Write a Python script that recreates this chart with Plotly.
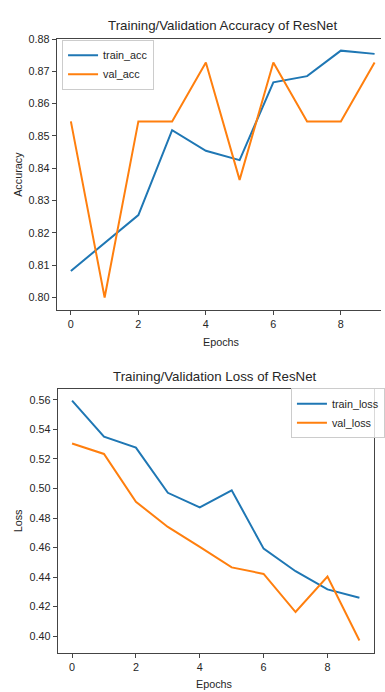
import plotly.graph_objects as go

epochs = list(range(10))
train_acc = [0.8082, 0.8168, 0.8255, 0.8518, 0.8454, 0.8425, 0.8666, 0.8685, 0.8764, 0.8754]
val_acc = [0.8545, 0.8000, 0.8545, 0.8545, 0.8727, 0.8364, 0.8727, 0.8545, 0.8545, 0.8727]
train_loss = [0.5595, 0.5351, 0.5277, 0.4971, 0.4872, 0.4988, 0.4593, 0.4440, 0.4317, 0.4261]
val_loss = [0.5305, 0.5234, 0.4910, 0.4740, 0.4605, 0.4466, 0.4422, 0.4164, 0.4404, 0.3971]
acc_ticks = [0.80, 0.81, 0.82, 0.83, 0.84, 0.85, 0.86, 0.87, 0.88]
loss_ticks = [0.40, 0.42, 0.44, 0.46, 0.48, 0.50, 0.52, 0.54, 0.56]
x_ticks = [0, 2, 4, 6, 8]

BLUE = "#1f77b4"
ORANGE = "#ff7f0e"
FONT = "Liberation Sans, Arial, sans-serif"
TXT = "#262626"
FS = 10.8
TS = 13.3
W, H = 385, 692

def px(v):
    return v / W

def py(v):
    return 1 - v / H

fig = go.Figure()
fig.add_trace(go.Scatter(x=epochs, y=train_acc, mode="lines", name="train_acc",
                         line=dict(color=BLUE, width=2), xaxis="x", yaxis="y", legend="legend"))
fig.add_trace(go.Scatter(x=epochs, y=val_acc, mode="lines", name="val_acc",
                         line=dict(color=ORANGE, width=2), xaxis="x", yaxis="y", legend="legend"))
fig.add_trace(go.Scatter(x=epochs, y=train_loss, mode="lines", name="train_loss",
                         line=dict(color=BLUE, width=2), xaxis="x2", yaxis="y2", legend="legend2"))
fig.add_trace(go.Scatter(x=epochs, y=val_loss, mode="lines", name="val_loss",
                         line=dict(color=ORANGE, width=2), xaxis="x2", yaxis="y2", legend="legend2"))

axcommon = dict(showgrid=False, zeroline=False, showline=True, linecolor="#444", linewidth=1,
                ticks="outside", ticklen=4, tickwidth=1, tickcolor="#444",
                tickfont=dict(family=FONT, size=FS, color=TXT))

fig.update_layout(
    width=W, height=H, margin=dict(l=0, r=0, t=0, b=0),
    paper_bgcolor="white", plot_bgcolor="white",
    font=dict(family=FONT, size=FS, color=TXT),
    xaxis=dict(domain=[px(57.3), 1], anchor="y", range=[-0.42, 9.19],
               tickvals=x_ticks, mirror=True, **axcommon),
    yaxis=dict(domain=[py(306.7), py(33.3)], anchor="x", range=[0.7961, 0.8800],
               tickvals=acc_ticks, tickformat=".2f", mirror=False, **axcommon),
    xaxis2=dict(domain=[px(58.3), px(377.7)], anchor="y2", range=[-0.45, 9.45],
                tickvals=x_ticks, mirror=True, **axcommon),
    yaxis2=dict(domain=[py(652.3), py(386)], anchor="x2", range=[0.3889, 0.5676],
                tickvals=loss_ticks, tickformat=".2f", mirror=True, **axcommon),
    legend=dict(x=px(62.7), y=py(34), xanchor="left", yanchor="top",
                bgcolor="rgba(255,255,255,0.8)", bordercolor="#cccccc", borderwidth=1,
                font=dict(family=FONT, size=FS, color=TXT), tracegroupgap=0),
    legend2=dict(x=px(294), y=py(385.5), xanchor="left", yanchor="top",
                 bgcolor="rgba(255,255,255,0.8)", bordercolor="#cccccc", borderwidth=1,
                 font=dict(family=FONT, size=FS, color=TXT), tracegroupgap=0),
)

ann = [
    dict(text="Training/Validation Accuracy of ResNet", x=px(225), y=py(20), size=TS, angle=0),
    dict(text="Training/Validation Loss of ResNet", x=px(217.5), y=py(374), size=TS, angle=0),
    dict(text="Epochs", x=px(224), y=py(339), size=FS, angle=0),
    dict(text="Epochs", x=px(217), y=py(684), size=FS, angle=0),
    dict(text="Accuracy", x=px(17.5), y=py(170), size=FS, angle=-90),
    dict(text="Loss", x=px(18), y=py(519), size=FS, angle=-90),
]
for a in ann:
    fig.add_annotation(text=a["text"], x=a["x"], y=a["y"], xref="paper", yref="paper",
                       xanchor="center", yanchor="middle", showarrow=False, textangle=a["angle"],
                       font=dict(family=FONT, size=a["size"], color=TXT))

fig.write_html("out.html")
